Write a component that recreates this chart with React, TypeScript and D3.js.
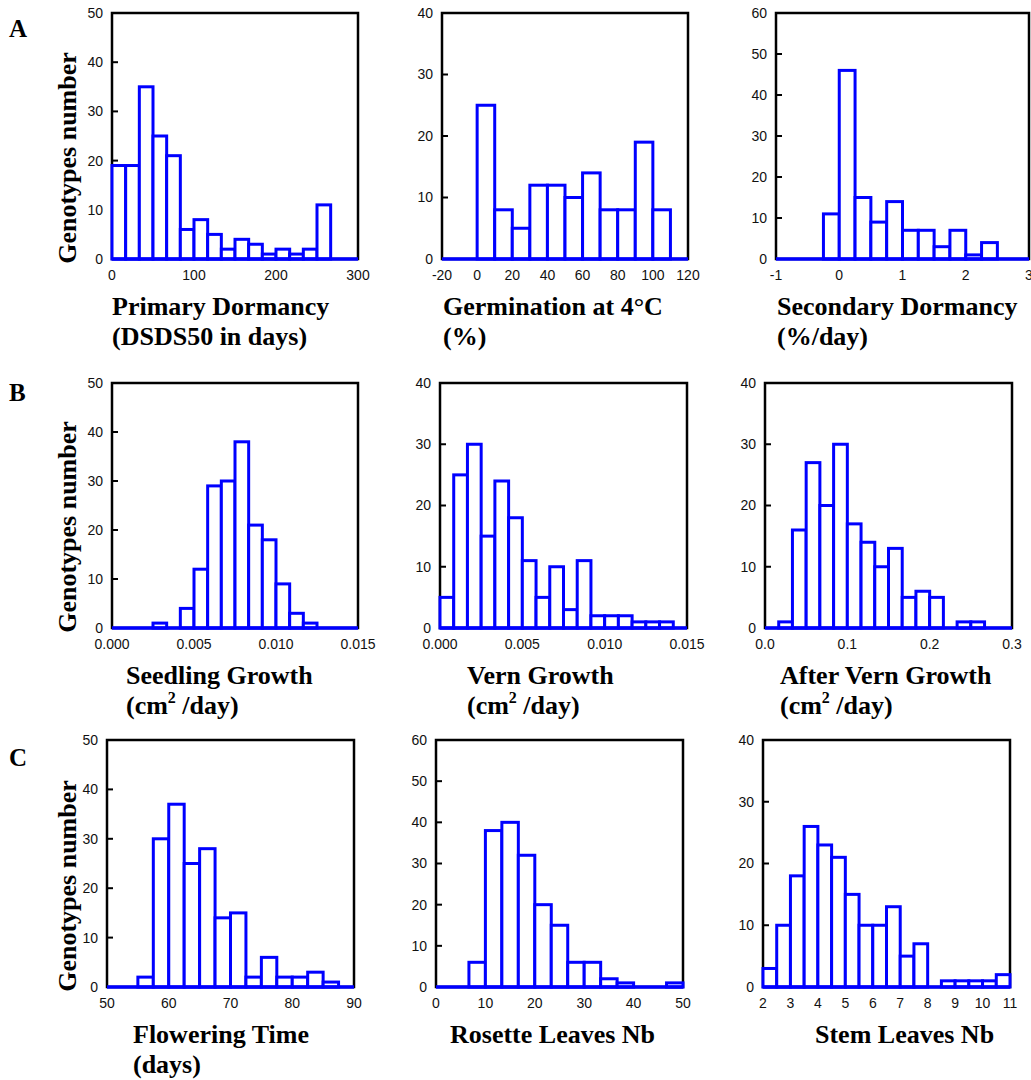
import React from 'react';
import * as d3 from 'd3';

const W = 1031;
const H = 1080;
const BLUE = '#0000ff';
const serif = '"Liberation Serif", "Times New Roman", serif';
const sans = '"Liberation Sans", Arial, sans-serif';

// counts per bin
const primaryDormancy = [19, 19, 35, 25, 21, 6, 8, 5, 2, 4, 3, 1, 2, 1, 2, 11];
const germination4C = [25, 8, 5, 12, 12, 10, 14, 8, 8, 19, 8];
const secondaryDormancy = [11, 46, 15, 9, 14, 7, 7, 3, 7, 1, 4];
const seedlingGrowth = [0, 0, 0, 1, 0, 4, 12, 29, 30, 38, 21, 18, 9, 3, 1];
const vernGrowth = [5, 25, 30, 15, 24, 18, 11, 5, 10, 3, 11, 2, 2, 2, 1, 1, 1];
const afterVernGrowth = [0, 1, 16, 27, 20, 30, 17, 14, 10, 13, 5, 6, 5, 0, 1, 1];
const floweringTime = [2, 30, 37, 25, 28, 14, 15, 2, 6, 2, 2, 3, 1];
const rosetteLeaves = [0, 0, 6, 38, 40, 32, 20, 15, 6, 6, 2, 1, 0, 0, 1];
const stemLeaves = [3, 10, 18, 26, 23, 21, 15, 10, 10, 13, 5, 7, 0, 1, 1, 1, 1, 2];

// x tick values
const ticksA1 = [0, 100, 200, 300];
const ticksA2 = [-20, 0, 20, 40, 60, 80, 100, 120];
const ticksA3 = [-1, 0, 1, 2, 3];
const ticksB12 = [0, 0.005, 0.01, 0.015];
const ticksB3 = [0, 0.1, 0.2, 0.3];
const ticksC1 = [50, 60, 70, 80, 90];
const ticksC2 = [0, 10, 20, 30, 40, 50];
const ticksC3 = [2, 3, 4, 5, 6, 7, 8, 9, 10, 11];

type Panel = {
  box: [number, number, number, number]; // left, right, top, bottom
  xDomain: [number, number];
  yMax: number;
  counts: number[];
  binStart: number;
  binWidth: number;
  xTicks: number[];
  fmt: (v: number) => string;
  label: string[];
  labelX: number;
  sup?: boolean;
};

const rowA = [13, 259];
const rowB = [383, 628];
const rowC = [740, 987];
const intFmt = (v: number) => String(v);

const panels: Panel[] = [
  { box: [112, 358, rowA[0], rowA[1]], xDomain: [0, 300], yMax: 50, counts: primaryDormancy, binStart: 0, binWidth: 300 / 18, xTicks: ticksA1, fmt: intFmt, label: ['Primary Dormancy', '(DSDS50 in days)'], labelX: 112 },
  { box: [442, 688, rowA[0], rowA[1]], xDomain: [-20, 120], yMax: 40, counts: germination4C, binStart: 0, binWidth: 10, xTicks: ticksA2, fmt: intFmt, label: ['Germination at 4°C', '(%)'], labelX: 443 },
  { box: [776, 1029, rowA[0], rowA[1]], xDomain: [-1, 3], yMax: 60, counts: secondaryDormancy, binStart: -0.25, binWidth: 0.25, xTicks: ticksA3, fmt: intFmt, label: ['Secondary Dormancy', '(%/day)'], labelX: 777 },
  { box: [112, 358, rowB[0], rowB[1]], xDomain: [0, 0.015], yMax: 50, counts: seedlingGrowth, binStart: 0, binWidth: 0.015 / 18, xTicks: ticksB12, fmt: d3.format('.3f'), label: ['Seedling Growth', 'SUP'], labelX: 126, sup: true },
  { box: [440, 687, rowB[0], rowB[1]], xDomain: [0, 0.015], yMax: 40, counts: vernGrowth, binStart: 0, binWidth: 0.015 / 18, xTicks: ticksB12, fmt: d3.format('.3f'), label: ['Vern Growth', 'SUP'], labelX: 467, sup: true },
  { box: [765, 1012, rowB[0], rowB[1]], xDomain: [0, 0.3], yMax: 40, counts: afterVernGrowth, binStart: 0, binWidth: 0.3 / 18, xTicks: ticksB3, fmt: d3.format('.1f'), label: ['After Vern Growth', 'SUP'], labelX: 780, sup: true },
  { box: [107, 354, rowC[0], rowC[1]], xDomain: [50, 90], yMax: 50, counts: floweringTime, binStart: 55, binWidth: 2.5, xTicks: ticksC1, fmt: intFmt, label: ['Flowering Time', '(days)'], labelX: 133 },
  { box: [436, 683, rowC[0], rowC[1]], xDomain: [0, 50], yMax: 60, counts: rosetteLeaves, binStart: 0, binWidth: 50 / 15, xTicks: ticksC2, fmt: intFmt, label: ['Rosette Leaves Nb'], labelX: 450 },
  { box: [763, 1010, rowC[0], rowC[1]], xDomain: [2, 11], yMax: 40, counts: stemLeaves, binStart: 2, binWidth: 0.5, xTicks: ticksC3, fmt: intFmt, label: ['Stem Leaves Nb'], labelX: 815 },
];

const rowLetters = [
  { t: 'A', y: 37, bottom: rowA[1] },
  { t: 'B', y: 401, bottom: rowB[1] },
  { t: 'C', y: 766, bottom: rowC[1] },
];

function Histogram({ p }: { p: Panel }) {
  const [l, r, t, b] = p.box;
  const x = d3.scaleLinear().domain(p.xDomain).range([l, r]);
  const y = d3.scaleLinear().domain([0, p.yMax]).range([b, t]);
  const yTicks = y.ticks(p.yMax / 10);
  return (
    <g>
      <rect x={l} y={t} width={r - l} height={b - t} fill="none" stroke="#000" strokeWidth={2.5} />
      {yTicks.map(v => (
        <g key={v}>
          {v > 0 && <line x1={l} x2={l + 6} y1={y(v)} y2={y(v)} stroke="#000" strokeWidth={2} />}
          <text x={l - 9} y={y(v)} dy="0.35em" textAnchor="end" fontFamily={sans} fontSize={14} fill="#111">{v}</text>
        </g>
      ))}
      {p.xTicks.map(v => (
        <text key={v} x={x(v)} y={b + 21} textAnchor="middle" fontFamily={sans} fontSize={14} fill="#111">{p.fmt(v)}</text>
      ))}
      {p.counts.map((c, i) => {
        if (c === 0) return null;
        const x0 = x(p.binStart + i * p.binWidth);
        const x1 = x(p.binStart + (i + 1) * p.binWidth);
        return <rect key={i} x={x0} y={y(c)} width={x1 - x0} height={b - y(c)} fill="#fff" stroke={BLUE} strokeWidth={3} />;
      })}
      <line x1={l} x2={r} y1={b} y2={b} stroke={BLUE} strokeWidth={3.5} />
      {p.label.map((s, i) => {
        const yy = b + 56 + i * 30;
        if (s === 'SUP') {
          return (
            <text key={i} x={p.labelX} y={yy} fontFamily={serif} fontWeight="bold" fontSize={26}>
              (cm<tspan fontSize={16} dy={-11}>2</tspan><tspan dy={11}> /day)</tspan>
            </text>
          );
        }
        return <text key={i} x={p.labelX} y={yy} fontFamily={serif} fontWeight="bold" fontSize={26}>{s}</text>;
      })}
    </g>
  );
}

export default function App() {
  return (
    <svg width={W} height={H} style={{ position: 'absolute', left: 0, top: 0, background: '#fff' }}>
      <rect width={W} height={H} fill="#fff" />
      {rowLetters.map(rl => (
        <g key={rl.t}>
          <text x={9} y={rl.y} fontFamily={serif} fontWeight="bold" fontSize={25}>{rl.t}</text>
          <text transform={`translate(76,${rl.bottom - 101}) rotate(-90)`} textAnchor="middle" fontFamily={serif} fontWeight="bold" fontSize={26}>Genotypes number</text>
        </g>
      ))}
      {panels.map((p, i) => <Histogram key={i} p={p} />)}
    </svg>
  );
}
